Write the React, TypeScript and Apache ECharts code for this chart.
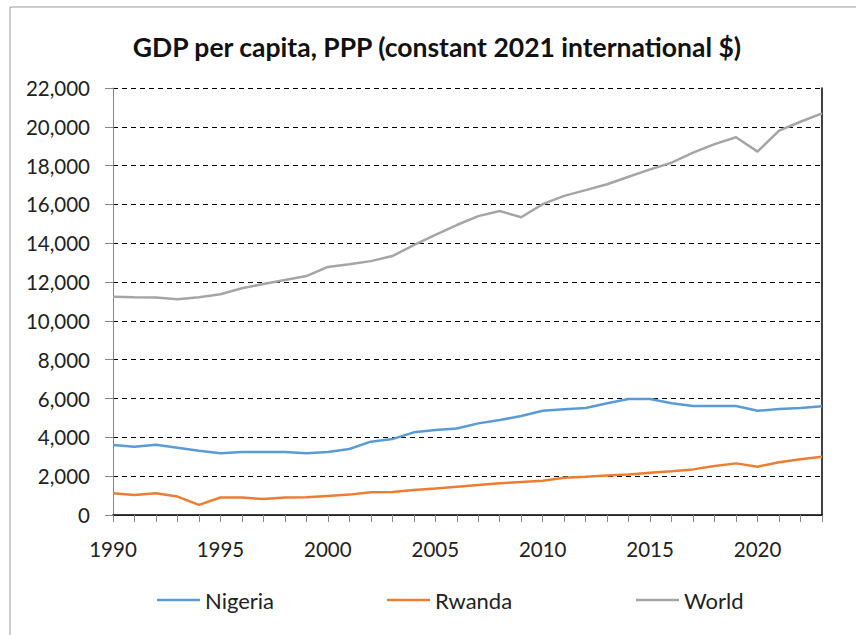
import React, { useEffect, useRef } from "react";
import * as echarts from "echarts";

const years: string[] = [];
for (let y = 1990; y <= 2023; y++) years.push(String(y));

const nigeria = [
  3610, 3520, 3620, 3470, 3310, 3180, 3250, 3250, 3250, 3180,
  3250, 3400, 3780, 3910, 4260, 4380, 4460, 4720, 4890, 5100,
  5370, 5450, 5510, 5760, 5980, 5980, 5760, 5620, 5620, 5620,
  5370, 5460, 5510, 5600,
];
const rwanda = [
  1120, 1030, 1120, 950, 520, 900, 900, 820, 900, 910,
  980, 1050, 1170, 1190, 1290, 1370, 1460, 1550, 1630, 1700,
  1770, 1920, 1970, 2030, 2090, 2180, 2250, 2350, 2520, 2660,
  2490, 2720, 2870, 3000,
];
const world = [
  11250, 11215, 11200, 11110, 11215, 11370, 11680, 11900, 12110, 12310,
  12780, 12920, 13080, 13340, 13910, 14430, 14940, 15400, 15660, 15340,
  16020, 16440, 16740, 17040, 17430, 17810, 18150, 18670, 19110, 19460,
  18720, 19800, 20260, 20690,
];

const seriesNames = ["Nigeria", "Rwanda", "World"];
const seriesColors = ["#5B9BD5", "#ED7D31", "#A5A5A5"];
const yMin = 0;
const yMax = 22000;
const yStep = 2000;

const FONT = "Lato";

export default function App() {
  const ref = useRef<HTMLDivElement>(null);
  useEffect(() => {
    if (!ref.current) return;
    const chart = echarts.init(ref.current, null, { renderer: "svg" });
    const data = [nigeria, rwanda, world];
    const legendLeft = [152, 382, 631];
    chart.setOption({
      animation: false,
      backgroundColor: "#fff",
      textStyle: { fontFamily: FONT },
      title: {
        text: "GDP per capita, PPP (constant 2021 international $)",
        left: 432,
        textAlign: "center",
        top: 28,
        textStyle: { fontFamily: FONT, fontSize: 26.5, fontWeight: "bold", color: "#111" },
      },
      graphic: [
        {
          type: "rect",
          shape: { x: 10, y: 7, width: 900, height: 700 },
          style: { fill: "none", stroke: "#9a9a9a", lineWidth: 1 },
          silent: true,
        },
      ],
      legend: seriesNames.map((n, i) => ({
        data: [n],
        left: legendLeft[i],
        top: 584,
        icon: "rect",
        itemWidth: 43,
        itemHeight: 2.5,
        itemGap: 5,
        textStyle: { fontFamily: FONT, fontSize: 22, color: "#222", padding: [0, 0, 0, 0] },
      })),
      grid: { left: 113, top: 88, width: 709, height: 427, containLabel: false },
      xAxis: [
        {
          type: "category",
          data: years,
          boundaryGap: false,
          axisLine: { lineStyle: { color: "#868686", width: 1 } },
          axisTick: { show: true, interval: 0, length: 7, lineStyle: { color: "#868686" } },
          axisLabel: { interval: 4, fontSize: 20.5, color: "#222", margin: 23, fontFamily: FONT },
          splitLine: { show: false },
        },
        {
          type: "category",
          data: years,
          boundaryGap: false,
          position: "top",
          axisLine: { lineStyle: { color: "#000", width: 1.5 } },
          axisTick: { show: false },
          axisLabel: { show: false },
        },
      ],
      yAxis: [
        {
          type: "value",
          min: yMin,
          max: yMax,
          interval: yStep,
          axisLine: { show: true, lineStyle: { color: "#868686", width: 1 } },
          axisTick: { show: true, length: 8, lineStyle: { color: "#868686" } },
          axisLabel: {
            fontSize: 20.5,
            color: "#222",
            margin: 23,
            fontFamily: FONT,
            formatter: (v: number) => v.toLocaleString("en-US"),
          },
          splitLine: { show: true, lineStyle: { color: "#000", type: [5, 4], width: 1.2 } },
        },
        {
          type: "value",
          min: yMin,
          max: yMax,
          interval: yStep,
          position: "right",
          axisLine: { show: true, lineStyle: { color: "#000", width: 1.5 } },
          axisTick: { show: false },
          axisLabel: { show: false },
          splitLine: { show: false },
        },
      ],
      series: seriesNames.map((n, i) => ({
        name: n,
        type: "line",
        data: data[i],
        xAxisIndex: 0,
        yAxisIndex: 0,
        showSymbol: false,
        symbol: "none",
        lineStyle: { color: seriesColors[i], width: 2.5 },
        itemStyle: { color: seriesColors[i] },
        z: 3,
      })),
    });
    return () => chart.dispose();
  }, []);
  return (
    <div
      ref={ref}
      style={{ position: "absolute", left: 0, top: 0, width: 856, height: 635 }}
    />
  );
}
